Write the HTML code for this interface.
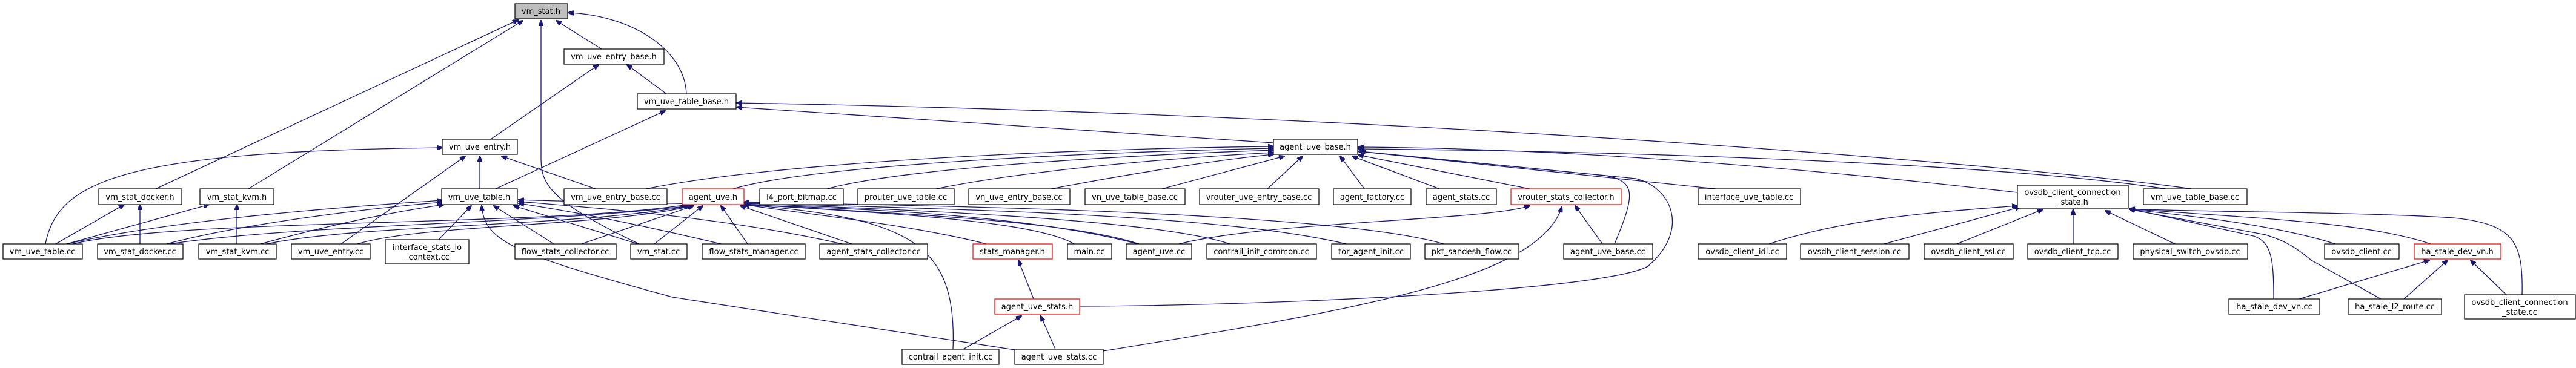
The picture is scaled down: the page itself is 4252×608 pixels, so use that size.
<!DOCTYPE html>
<html><head><meta charset="utf-8"><style>
html,body{margin:0;padding:0;background:#fff;width:4252px;height:608px;overflow:hidden}
svg{display:block}
text{font-family:"DejaVu Sans","Liberation Sans",sans-serif;font-size:13px;fill:#000;text-anchor:middle}
.b{fill:#fff;stroke:#000;stroke-width:1.2}
.r{fill:#fff;stroke:#ff0000;stroke-width:1.2}
.g{fill:#bfbfbf;stroke:#000;stroke-width:1.2}
path{fill:none;stroke:#191970;stroke-width:1.3}
</style></head><body>
<svg width="4252" height="608" viewBox="0 0 4252 608" xmlns="http://www.w3.org/2000/svg">
<defs><marker id="a" markerWidth="10" markerHeight="8" refX="9" refY="4" orient="auto" markerUnits="userSpaceOnUse"><path d="M0,0 L10,4 L0,8 z" style="fill:#191970;stroke:#191970"/></marker></defs>
<g marker-end="url(#a)">
<path d="M257 312 L855 33"/>
<path d="M410 312 L863 34"/>
<path d="M1055 403 C900 330 893 300 893 260 L893 34"/>
<path d="M993 81 L918 34"/>
<path d="M1133 155 C1130 80 1040 25 938 21"/>
<path d="M810 230 L988 107"/>
<path d="M1100 155 L1035 107"/>
<path d="M818 312 L1098 183"/>
<path d="M2102 236 L1216 177"/>
<path d="M3617 312 C3400 280 2400 190 1216 170"/>
<path d="M75 403 C95 300 200 250 730 244"/>
<path d="M792 312 L792 258"/>
<path d="M563 403 L768 258"/>
<path d="M983 312 L828 258"/>
<path d="M92 403 L205 338"/>
<path d="M231 403 L231 338"/>
<path d="M110 403 L345 338"/>
<path d="M391 403 L391 338"/>
<path d="M110 403 C300 360 600 340 730 331"/>
<path d="M275 403 C400 370 600 345 730 334"/>
<path d="M430 403 C550 370 650 350 733 338"/>
<path d="M724 396 L778 340"/>
<path d="M914 403 L815 340"/>
<path d="M1053 403 L848 340"/>
<path d="M1190 403 C1050 370 950 350 856 336"/>
<path d="M1390 403 C1200 360 1000 345 856 333"/>
<path d="M1878 403 C1600 330 1100 340 856 330"/>
<path d="M1675 578 L1110 491 C850 420 800 400 795 340"/>
<path d="M120 403 C300 360 900 375 1135 338"/>
<path d="M280 403 C500 370 900 370 1138 340"/>
<path d="M440 403 C600 370 950 375 1140 340"/>
<path d="M590 403 C700 370 1000 375 1143 340"/>
<path d="M960 403 L1145 340"/>
<path d="M1080 403 L1160 340"/>
<path d="M1234 403 L1190 340"/>
<path d="M1406 403 L1222 340"/>
<path d="M1628 403 C1500 370 1300 350 1228 338"/>
<path d="M1773 403 C1700 360 1400 350 1228 337"/>
<path d="M1880 403 C1750 360 1400 350 1228 337"/>
<path d="M2030 403 C1900 360 1450 345 1228 336"/>
<path d="M2222 403 C2000 350 1500 345 1228 335"/>
<path d="M2383 403 C2200 350 1550 340 1228 334"/>
<path d="M1573 577 C1580 400 1500 360 1228 338"/>
<path d="M1706 494 L1681 430"/>
<path d="M1590 577 L1686 522"/>
<path d="M1742 577 L1718 522"/>
<path d="M1782 506 C2100 505 2650 480 2720 440 C2790 380 2760 310 2700 295 L2245 250"/>
<path d="M1821 580 C2250 510 2540 460 2578 342"/>
<path d="M1946 403 C2100 365 2450 365 2525 340"/>
<path d="M2645 403 L2600 340"/>
<path d="M2665 403 C2700 320 2700 300 2650 290 L2242 250"/>
<path d="M2092 312 L2150 258"/>
<path d="M1918 312 L2120 258"/>
<path d="M1735 312 C1850 290 2000 265 2102 255"/>
<path d="M1545 312 C1700 280 1950 260 2102 252"/>
<path d="M1365 312 C1500 275 1900 255 2102 248"/>
<path d="M1210 312 C1350 270 1850 250 2102 245"/>
<path d="M1066 312 C1300 265 1800 245 2102 242"/>
<path d="M2252 312 L2212 258"/>
<path d="M2376 312 L2232 258"/>
<path d="M2525 312 L2242 256"/>
<path d="M2832 312 L2242 250"/>
<path d="M3330 318 C3000 280 2600 245 2242 243"/>
<path d="M3575 312 C3300 270 2700 250 2242 246"/>
<path d="M2920 403 C3050 360 3200 350 3330 340"/>
<path d="M3110 403 L3335 342"/>
<path d="M3230 403 L3372 346"/>
<path d="M3422 403 L3422 346"/>
<path d="M3590 403 L3475 348"/>
<path d="M3855 403 C3750 370 3600 355 3515 346"/>
<path d="M4012 403 C3900 365 3700 360 3515 345"/>
<path d="M3753 494 C3753 430 3750 400 3720 390 L3515 345"/>
<path d="M3930 494 L3815 430 C3780 400 3760 395 3740 388 L3515 346"/>
<path d="M4163 487 C4165 400 4150 370 4050 360 C3900 350 3600 350 3515 345"/>
<path d="M3795 494 L4010 430"/>
<path d="M3968 494 L4040 430"/>
<path d="M4137 487 L4078 430"/>
</g>
<g>
<rect class="g" x="850" y="6" width="87" height="25"/><text x="893" y="23">vm_stat.h</text>
<rect class="b" x="931" y="81" width="165" height="25"/><text x="1013" y="98">vm_uve_entry_base.h</text>
<rect class="b" x="1052" y="155" width="163" height="25"/><text x="1133" y="172">vm_uve_table_base.h</text>
<rect class="b" x="730" y="230" width="124" height="25"/><text x="792" y="247">vm_uve_entry.h</text>
<rect class="b" x="2102" y="230" width="139" height="25"/><text x="2171" y="247">agent_uve_base.h</text>
<rect class="b" x="163" y="312" width="137" height="26"/><text x="231" y="330">vm_stat_docker.h</text>
<rect class="b" x="330" y="312" width="122" height="26"/><text x="391" y="330">vm_stat_kvm.h</text>
<rect class="b" x="729" y="312" width="125" height="26"/><text x="791" y="330">vm_uve_table.h</text>
<rect class="b" x="931" y="312" width="170" height="26"/><text x="1016" y="330">vm_uve_entry_base.cc</text>
<rect class="r" x="1126" y="312" width="102" height="26"/><text x="1177" y="330">agent_uve.h</text>
<rect class="b" x="1254" y="312" width="138" height="26"/><text x="1323" y="330">l4_port_bitmap.cc</text>
<rect class="b" x="1416" y="312" width="159" height="26"/><text x="1495" y="330">prouter_uve_table.cc</text>
<rect class="b" x="1599" y="312" width="167" height="26"/><text x="1682" y="330">vn_uve_entry_base.cc</text>
<rect class="b" x="1791" y="312" width="165" height="26"/><text x="1873" y="330">vn_uve_table_base.cc</text>
<rect class="b" x="1980" y="312" width="197" height="26"/><text x="2078" y="330">vrouter_uve_entry_base.cc</text>
<rect class="b" x="2201" y="312" width="128" height="26"/><text x="2265" y="330">agent_factory.cc</text>
<rect class="b" x="2354" y="312" width="116" height="26"/><text x="2412" y="330">agent_stats.cc</text>
<rect class="r" x="2494" y="312" width="182" height="26"/><text x="2585" y="330">vrouter_stats_collector.h</text>
<rect class="b" x="2803" y="312" width="169" height="26"/><text x="2887" y="330">interface_uve_table.cc</text>
<rect class="b" x="3330" y="306" width="183" height="38"/><text x="3421" y="322">ovsdb_client_connection</text><text x="3421" y="338">_state.h</text>
<rect class="b" x="3538" y="312" width="171" height="26"/><text x="3623" y="330">vm_uve_table_base.cc</text>
<rect class="b" x="5" y="403" width="131" height="25"/><text x="70" y="420">vm_uve_table.cc</text>
<rect class="b" x="161" y="403" width="141" height="25"/><text x="231" y="420">vm_stat_docker.cc</text>
<rect class="b" x="328" y="403" width="128" height="25"/><text x="392" y="420">vm_stat_kvm.cc</text>
<rect class="b" x="481" y="403" width="130" height="25"/><text x="546" y="420">vm_uve_entry.cc</text>
<rect class="b" x="636" y="396" width="138" height="40"/><text x="705" y="413">interface_stats_io</text><text x="705" y="429">_context.cc</text>
<rect class="b" x="850" y="403" width="167" height="25"/><text x="933" y="420">flow_stats_collector.cc</text>
<rect class="b" x="1041" y="403" width="93" height="25"/><text x="1087" y="420">vm_stat.cc</text>
<rect class="b" x="1159" y="403" width="170" height="25"/><text x="1244" y="420">flow_stats_manager.cc</text>
<rect class="b" x="1353" y="403" width="178" height="25"/><text x="1442" y="420">agent_stats_collector.cc</text>
<rect class="r" x="1606" y="403" width="131" height="25"/><text x="1671" y="420">stats_manager.h</text>
<rect class="b" x="1762" y="403" width="73" height="25"/><text x="1798" y="420">main.cc</text>
<rect class="b" x="1859" y="403" width="108" height="25"/><text x="1913" y="420">agent_uve.cc</text>
<rect class="b" x="1992" y="403" width="181" height="25"/><text x="2082" y="420">contrail_init_common.cc</text>
<rect class="b" x="2198" y="403" width="130" height="25"/><text x="2263" y="420">tor_agent_init.cc</text>
<rect class="b" x="2352" y="403" width="155" height="25"/><text x="2429" y="420">pkt_sandesh_flow.cc</text>
<rect class="b" x="2581" y="403" width="147" height="25"/><text x="2654" y="420">agent_uve_base.cc</text>
<rect class="b" x="2803" y="403" width="146" height="25"/><text x="2876" y="420">ovsdb_client_idl.cc</text>
<rect class="b" x="2972" y="403" width="179" height="25"/><text x="3061" y="420">ovsdb_client_session.cc</text>
<rect class="b" x="3176" y="403" width="147" height="25"/><text x="3249" y="420">ovsdb_client_ssl.cc</text>
<rect class="b" x="3347" y="403" width="149" height="25"/><text x="3421" y="420">ovsdb_client_tcp.cc</text>
<rect class="b" x="3521" y="403" width="189" height="25"/><text x="3615" y="420">physical_switch_ovsdb.cc</text>
<rect class="b" x="3837" y="403" width="123" height="25"/><text x="3898" y="420">ovsdb_client.cc</text>
<rect class="r" x="3985" y="403" width="143" height="25"/><text x="4056" y="420">ha_stale_dev_vn.h</text>
<rect class="r" x="1642" y="494" width="140" height="25"/><text x="1712" y="511">agent_uve_stats.h</text>
<rect class="b" x="3679" y="494" width="150" height="25"/><text x="3754" y="511">ha_stale_dev_vn.cc</text>
<rect class="b" x="3876" y="494" width="154" height="25"/><text x="3953" y="511">ha_stale_l2_route.cc</text>
<rect class="b" x="4068" y="487" width="183" height="40"/><text x="4159" y="504">ovsdb_client_connection</text><text x="4159" y="520">_state.cc</text>
<rect class="b" x="1489" y="577" width="160" height="25"/><text x="1569" y="594">contrail_agent_init.cc</text>
<rect class="b" x="1675" y="577" width="146" height="25"/><text x="1748" y="594">agent_uve_stats.cc</text>
</g>
</svg>
</body></html>
